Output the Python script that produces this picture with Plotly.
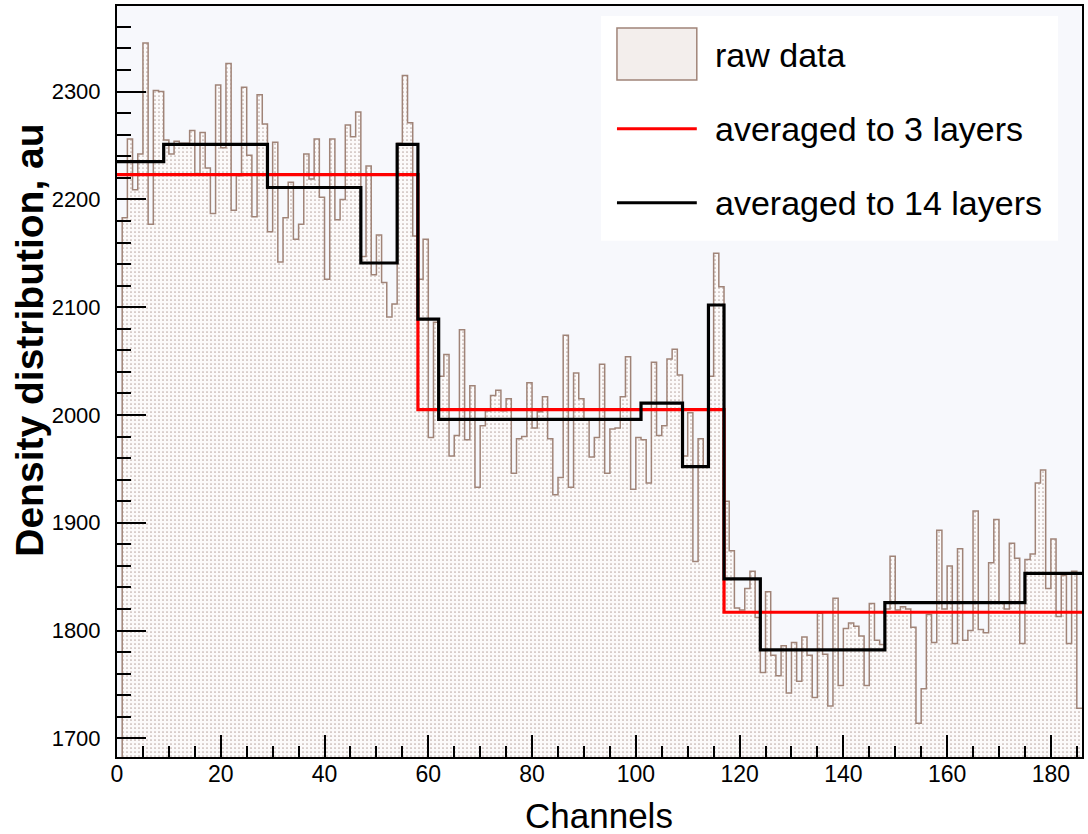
import numpy as np
import plotly.graph_objects as go

# ---------------- data ----------------
channel_edges = list(range(0, 187))  # 186 channels, bin edges 0..186

raw_data = [
    0, 2183, 2256, 2209, 2242, 2345, 2177, 2301, 2300, 2255,
    2242, 2254, 2252, 2252, 2264, 2224, 2262, 2229, 2187, 2306,
    2248, 2326, 2190, 2222, 2304, 2241, 2184, 2297, 2270, 2170,
    2253, 2142, 2183, 2216, 2163, 2177, 2242, 2219, 2256, 2202,
    2126, 2256, 2181, 2200, 2269, 2258, 2281, 2147, 2231, 2130,
    2167, 2123, 2091, 2103, 2252, 2315, 2271, 2166, 2126, 2163,
    1979, 2086, 2036, 2056, 1962, 1981, 2079, 1977, 2027, 1933,
    1990, 2004, 2018, 2023, 2004, 2015, 1946, 1978, 1980, 2030,
    1988, 2003, 2017, 1978, 1926, 1942, 2074, 1933, 2039, 2015,
    1996, 1961, 1979, 2047, 1946, 1987, 1988, 2017, 2054, 1931,
    1979, 1977, 1937, 2049, 1981, 1990, 2052, 2061, 2037, 1962,
    2002, 1864, 1978, 1953, 2036, 2150, 2119, 1920, 1874, 1821,
    1819, 1839, 1855, 1812, 1761, 1836, 1777, 1758, 1786, 1742,
    1789, 1753, 1794, 1777, 1738, 1816, 1778, 1730, 1830, 1749,
    1802, 1807, 1804, 1795, 1749, 1825, 1791, 1787, 1820, 1869,
    1819, 1822, 1820, 1803, 1714, 1746, 1815, 1789, 1893, 1820,
    1860, 1788, 1876, 1791, 1800, 1911, 1801, 1798, 1863, 1903,
    1826, 1820, 1881, 1867, 1788, 1866, 1871, 1937, 1949, 1839,
    1885, 1813, 1851, 1788, 1855, 1728,
]

layers3_edges = [0, 58, 117, 186]
layers3_values = [2223, 2005, 1817]

layers14_edges = [0, 9, 29, 47, 54, 58, 62, 101, 109, 114, 117, 124, 148, 175, 186]
layers14_values = [2235, 2251, 2211, 2141, 2251, 2089, 1996, 2011, 1952, 2102,
                   1848, 1782, 1826, 1853]

y_ticks = [1700, 1800, 1900, 2000, 2100, 2200, 2300]
x_ticks = [0, 20, 40, 60, 80, 100, 120, 140, 160, 180]

legend_labels = ["raw data", "averaged to 3 layers", "averaged to 14 layers"]

# ---------------- style ----------------
FONT = "Liberation Sans, Arial, Helvetica, sans-serif"
BROWN = "#a08478"
PLOT_BG = "#f7f8fc"

fig = go.Figure()

fig.add_trace(go.Scatter(
    x=channel_edges,
    y=raw_data + [raw_data[-1]],
    mode="lines",
    line=dict(shape="hv", color=BROWN, width=1.5),
    fill="tozeroy",
    fillcolor="rgba(0,0,0,0)",
    fillpattern=dict(shape=".", fgcolor="#7a5a50", bgcolor="#fcfafa",
                     size=4, solidity=0.14),
    name=legend_labels[0],
    showlegend=False,
    hoverinfo="skip",
))

fig.add_trace(go.Scatter(
    x=layers3_edges,
    y=layers3_values + [layers3_values[-1]],
    mode="lines",
    line=dict(shape="hv", color="#ff0000", width=3.2),
    name=legend_labels[1],
    showlegend=False,
))

fig.add_trace(go.Scatter(
    x=layers14_edges,
    y=layers14_values + [layers14_values[-1]],
    mode="lines",
    line=dict(shape="hv", color="#000000", width=3.2),
    name=legend_labels[2],
    showlegend=False,
))

# ---------------- layout ----------------
L, R, T, B = 117, 4, 5, 77
W, H = 1088, 834
plot_w = W - L - R
plot_h = H - T - B


def px_x(px):
    return (px - L) / plot_w


def px_y(py):
    return (H - B - py) / plot_h


fig.update_layout(
    width=W, height=H,
    margin=dict(l=L, r=R, t=T, b=B, pad=0),
    paper_bgcolor="white",
    plot_bgcolor=PLOT_BG,
    showlegend=False,
    font=dict(family=FONT, color="black"),
)

fig.update_xaxes(
    range=[0, 186],
    tickvals=x_ticks,
    ticks="inside", ticklen=22, tickwidth=1.5, tickcolor="black",
    minor=dict(dtick=5, tick0=0, ticks="inside", ticklen=11, tickwidth=1.5,
               tickcolor="black", showgrid=False),
    showgrid=False, zeroline=False,
    showline=True, mirror=True, linecolor="black", linewidth=2,
    tickfont=dict(size=23, family=FONT, color="black"),
    ticklabelstandoff=-5,
)

fig.update_yaxes(
    range=[1682.7, 2379.4],
    tickvals=y_ticks,
    ticks="inside", ticklen=29, tickwidth=1.5, tickcolor="black",
    minor=dict(dtick=20, tick0=1700, ticks="inside", ticklen=14, tickwidth=1.5,
               tickcolor="black", showgrid=False),
    showgrid=False, zeroline=False,
    showline=True, mirror=True, linecolor="black", linewidth=2,
    tickfont=dict(size=22, family=FONT, color="black"),
    ticklabelstandoff=10,
)

annotations = [
    dict(text="Channels", xref="paper", yref="paper",
         x=px_x(600), y=px_y(816), xanchor="center", yanchor="middle",
         showarrow=False, font=dict(size=35, family=FONT, color="black")),
    dict(text="<b>Density distribution, au</b>", xref="paper", yref="paper",
         x=px_x(29), y=px_y(340), xanchor="center", yanchor="middle",
         textangle=-90, showarrow=False,
         font=dict(size=39, family=FONT, color="black")),
]

legend_rows_px = [54, 128, 202]
for label, ry in zip(legend_labels, legend_rows_px):
    annotations.append(dict(
        text=label, xref="paper", yref="paper",
        x=px_x(714), y=px_y(ry), xanchor="left", yanchor="middle",
        showarrow=False, font=dict(size=34, family=FONT, color="black")))

shapes = [
    # legend background
    dict(type="rect", xref="paper", yref="paper",
         x0=px_x(602), x1=px_x(1060), y0=px_y(240), y1=px_y(15),
         fillcolor="white", line=dict(width=0), layer="above"),
    # raw data swatch
    dict(type="rect", xref="paper", yref="paper",
         x0=px_x(618), x1=px_x(698), y0=px_y(79), y1=px_y(27),
         fillcolor="#f3eeec", line=dict(color=BROWN, width=1.5), layer="above"),
    # red line swatch
    dict(type="line", xref="paper", yref="paper",
         x0=px_x(618), x1=px_x(698), y0=px_y(128), y1=px_y(128),
         line=dict(color="#ff0000", width=3), layer="above"),
    # black line swatch
    dict(type="line", xref="paper", yref="paper",
         x0=px_x(618), x1=px_x(698), y0=px_y(202), y1=px_y(202),
         line=dict(color="#000000", width=3), layer="above"),
]

fig.update_layout(annotations=annotations, shapes=shapes)

fig.write_html(
    "out.html",
    config={"displayModeBar": False},
    post_script="document.body.style.margin='0px';document.body.style.padding='0px';",
)
